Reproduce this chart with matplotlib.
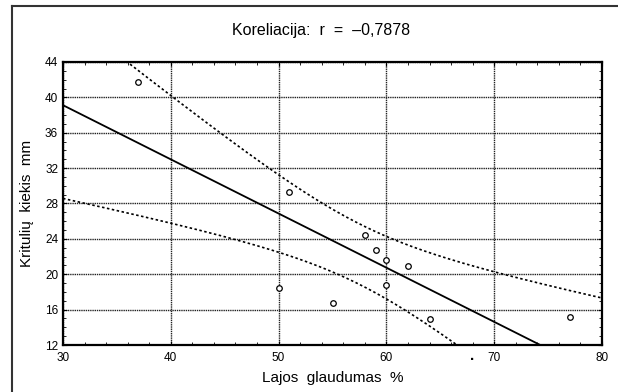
import numpy as np
import matplotlib
matplotlib.use("Agg")
import matplotlib.pyplot as plt
from matplotlib.ticker import MultipleLocator
from matplotlib.lines import Line2D

plt.rcParams['font.family'] = ['Liberation Sans', 'DejaVu Sans']

# Data
lajos = [37, 51, 58, 59, 60, 62, 60, 50, 55, 64, 77]
kritulai = [41.7, 29.3, 24.4, 22.7, 21.6, 20.9, 18.8, 18.4, 16.8, 14.9, 15.2]
x_ticks = [30, 40, 50, 60, 70, 80]
y_ticks = [12, 16, 20, 24, 28, 32, 36, 40, 44]
title = "Koreliacija:  r  =  \u20130,7878"
xlabel = "Lajos  glaudumas  %"
ylabel = "Kritulių  kiekis  mm"
t_crit = 2.262  # 95% t, df = 9

x = np.array(lajos, dtype=float)
y = np.array(kritulai, dtype=float)
n = len(x)
slope, intercept = np.polyfit(x, y, 1)
xm = x.mean()
sxx = ((x - xm) ** 2).sum()
resid = y - (slope * x + intercept)
s = np.sqrt((resid ** 2).sum() / (n - 2))

xs = np.linspace(30, 80, 400)
yhat = slope * xs + intercept
half = t_crit * s * np.sqrt(1.0 / n + (xs - xm) ** 2 / sxx)

fig = plt.figure(figsize=(6.18, 3.92), dpi=100)
ax = fig.add_axes([63 / 618, 1 - 345 / 392, (602 - 63) / 618, (345 - 62) / 392])

ax.set_xlim(30, 80)
ax.set_ylim(12, 44)

ax.grid(True, which='major', color='#222222', linestyle=(0, (1, 0.6)), linewidth=1.0)
ax.set_axisbelow(True)

ax.plot(xs, yhat, color='black', lw=1.3)
ax.plot(xs, yhat + half, color='black', lw=1.2, linestyle=(0, (1.5, 1.5)))
ax.plot(xs, yhat - half, color='black', lw=1.2, linestyle=(0, (1.5, 1.5)))
ax.scatter(x, y, s=16, facecolors='white', edgecolors='black', linewidths=0.9, zorder=3)

ax.set_xticks(x_ticks)
ax.set_yticks(y_ticks)
ax.xaxis.set_minor_locator(MultipleLocator(2))
ax.yaxis.set_minor_locator(MultipleLocator(1))
ax.tick_params(which='both', direction='in', top=True, right=True, labelsize=8.5)
ax.tick_params(which='major', length=3, width=0.8)
ax.tick_params(which='minor', length=2, width=0.6)
ax.tick_params(axis='x', pad=5)
for sp in ax.spines.values():
    sp.set_linewidth(1.6)

ax.set_xlabel(xlabel, fontsize=11, labelpad=5)
ax.set_ylabel(ylabel, fontsize=11, labelpad=8)
fig.text(321 / 618, 1 - 30 / 392, title, ha='center', va='center', fontsize=11.5)
fig.text(472 / 618, 1 - 360 / 392, ".", ha='center', va='baseline', fontsize=11, fontweight='bold')

# outer frame (left and top)
fig.add_artist(Line2D([12 / 618, 12 / 618], [0, 1 - 6 / 392], transform=fig.transFigure, color='#333333', lw=1.5))
fig.add_artist(Line2D([12 / 618, 1], [1 - 6 / 392, 1 - 6 / 392], transform=fig.transFigure, color='#333333', lw=1.5))

fig.savefig("out.png", dpi=100)
